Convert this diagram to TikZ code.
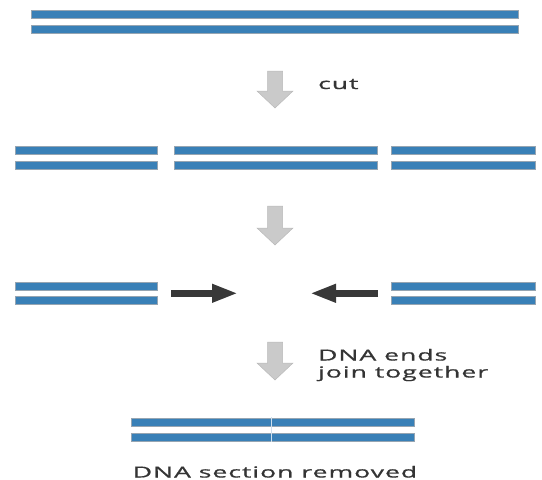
\documentclass[tikz,border=0pt]{standalone}
\usepackage{fontspec}
\usetikzlibrary{arrows.meta}
\newfontfamily\lblfont{Open Sans}[LetterSpace=4,FakeBold=0.8]
\definecolor{dnablue}{RGB}{57,128,183}
\definecolor{dnaedge}{RGB}{150,165,178}
\definecolor{arrowgray}{RGB}{202,202,202}
\definecolor{arrowedge}{RGB}{185,185,185}
\definecolor{darkarrow}{RGB}{56,56,56}
\definecolor{txtgray}{RGB}{52,52,52}
\newcommand{\wide}[1]{\scalebox{1.74}[1]{#1}}
\begin{document}
\begin{tikzpicture}[x=1pt,y=-1pt,
  strand/.style={rectangle,inner sep=0pt,minimum height=8pt,fill=dnablue,draw=dnaedge,line width=0.4pt},
  lbl/.style={inner sep=0pt,text=txtgray,font=\lblfont\fontsize{15.2}{17}\selectfont},
  joinarrow/.style={draw=darkarrow,line width=7pt,-{Triangle[length=26pt,width=17pt]}},
  pics/grayarrow/.style={code={
    \filldraw[fill=arrowgray,draw=arrowedge,line width=0.5pt]
      (-7.5,0) -- (7.5,0) -- (7.5,#1-17) -- (18,#1-17) -- (0,#1) -- (-18,#1-17) -- (-7.5,#1-17) -- cycle;
  }}]
\useasboundingbox (0,0) rectangle (542,480);
% row 1
\node[strand,minimum width=487pt] (a1) at (274.5,14.5) {};
\node[strand,minimum width=487pt] (a2) at (274.5,29) {};
% arrow 1
\pic at (275,71) {grayarrow=37};
\node[lbl,anchor=base west] (cut) at (318,89) {\wide{cut}};
% row 2
\node[strand,minimum width=142pt] (b1) at (86,150) {};
\node[strand,minimum width=142pt] (b2) at (86,165) {};
\node[strand,minimum width=203pt] (c1) at (275.5,150) {};
\node[strand,minimum width=203pt] (c2) at (275.5,165) {};
\node[strand,minimum width=144pt] (d1) at (463,150) {};
\node[strand,minimum width=144pt] (d2) at (463,165) {};
% arrow 2
\pic at (275,206) {grayarrow=39};
% row 3
\node[strand,minimum width=142pt] (e1) at (86,286) {};
\node[strand,minimum width=142pt] (e2) at (86,300.5) {};
\node[strand,minimum width=144pt] (f1) at (463,286) {};
\node[strand,minimum width=144pt] (f2) at (463,300.5) {};
\coordinate (lt) at (171,293.3);
\coordinate (lh) at (238,293.3);
\coordinate (rt) at (378,293.3);
\coordinate (rh) at (310,293.3);
\draw[joinarrow] (lt) -- (lh);
\draw[joinarrow] (rt) -- (rh);
% arrow 3
\pic at (275,342) {grayarrow=38};
\node[lbl,anchor=base west,align=left] (join) at (318,377.5) {\wide{DNA ends}\\\wide{join together}};
% row 4
\node[strand,minimum width=283pt] (g1) at (272.5,422) {};
\node[strand,minimum width=283pt] (g2) at (272.5,437) {};
\draw[white!75!dnablue,line width=0.8pt] ([xshift=-1pt,yshift=0.4pt]g1.north) -- ([xshift=-1pt,yshift=-0.4pt]g2.south);
\node[lbl,anchor=base] (removed) at (275,477.5) {\wide{DNA section removed}};
\end{tikzpicture}
\end{document}
